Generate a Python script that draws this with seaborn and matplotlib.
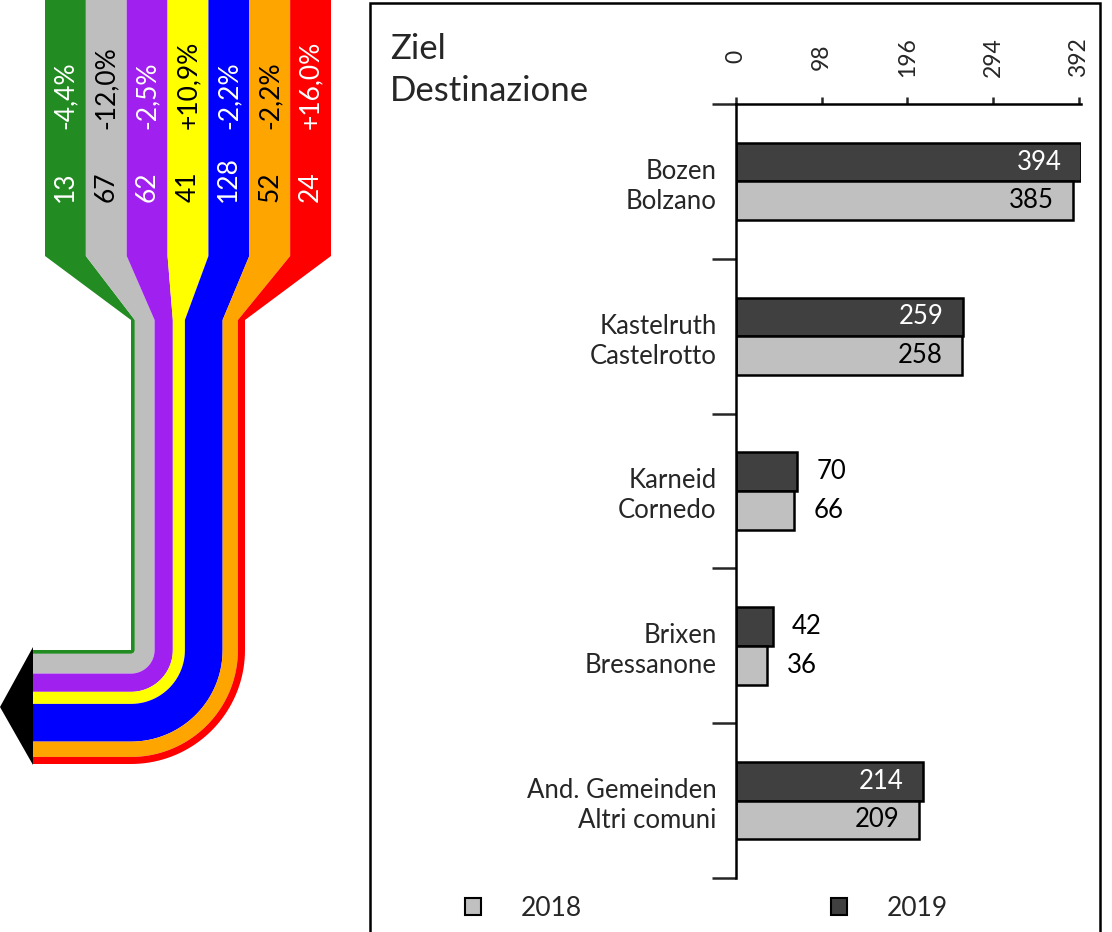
import numpy as np
import pandas as pd
import matplotlib
matplotlib.use("Agg")
import matplotlib.pyplot as plt
from matplotlib.patches import Polygon, Rectangle, Patch
import seaborn as sns

# --- data ---
origin_counts = [13, 67, 62, 41, 128, 52, 24]
origin_changes = ["-4,4%", "-12,0%", "-2,5%", "+10,9%", "-2,2%", "-2,2%", "+16,0%"]
origin_colors = ["#228B22", "#BEBEBE", "#A020F0", "#FFFF00", "#0000FF", "#FFA500", "#FF0000"]
origin_text = ["white", "black", "white", "black", "white", "black", "white"]

destinations = ["Bozen\nBolzano", "Kastelruth\nCastelrotto", "Karneid\nCornedo",
                "Brixen\nBressanone", "And. Gemeinden\nAltri comuni"]
values_2019 = [394, 259, 70, 42, 214]
values_2018 = [385, 258, 66, 36, 209]
x_ticks = [0, 98, 196, 294, 392]

sns.set_style("white")
plt.rcParams["font.family"] = ["Lato", "DejaVu Sans"]

W, H = 1112, 932
fig = plt.figure(figsize=(W / 100, H / 100), dpi=100)

# --- left: flow bands (pixel layout) ---
axf = fig.add_axes([0, 0, 360 / W, 1])
axf.set_xlim(0, 360)
axf.set_ylim(H, 0)
axf.axis("off")

top_x0, band_w = 45, 286 / 7
y_wide, y_narrow = 256, 320
cx, cy = 131, 650          # bend centre
left_end = 33
scale = 114 / sum(origin_counts)

offset = 0.0
for i, (cnt, col) in enumerate(zip(origin_counts, origin_colors)):
    w = cnt * scale
    a, b = offset, offset + w
    xl, xr = top_x0 + i * band_w, top_x0 + (i + 1) * band_w
    t = np.linspace(0, np.pi / 2, 40)
    pts = [(xl, -5), (xl, y_wide), (cx + a, y_narrow), (cx + a, cy)]
    pts += list(zip(cx + a * np.cos(t), cy + a * np.sin(t)))
    pts += [(left_end, cy + a), (left_end, cy + b)]
    pts += list(zip(cx + b * np.cos(t[::-1]), cy + b * np.sin(t[::-1])))
    pts += [(cx + b, y_narrow), (xr, y_wide), (xr, -5)]
    axf.add_patch(Polygon(pts, closed=True, facecolor=col, edgecolor="none"))
    xm = (xl + xr) / 2
    axf.text(xm, 202, str(cnt), rotation=90, ha="center", va="bottom",
             color=origin_text[i], fontsize=19)
    axf.text(xm, 129, origin_changes[i], rotation=90, ha="center", va="bottom",
             color=origin_text[i], fontsize=19)
    offset = b

axf.add_patch(Polygon([(left_end, cy - 3), (0, cy + offset / 2), (left_end, cy + offset + 1)],
                      closed=True, facecolor="black", edgecolor="none"))

# --- frame ---
fig.patches.append(Rectangle((370 / W, -0.01), (1100 - 370) / W, 1 - 3 / H + 0.01,
                             transform=fig.transFigure, fill=False,
                             edgecolor="black", linewidth=1.8))

# --- right: bar chart ---
df = pd.DataFrame({
    "dest": destinations * 2,
    "value": values_2019 + values_2018,
    "year": ["2019"] * len(destinations) + ["2018"] * len(destinations),
})

ax = fig.add_axes([736 / W, 1 - 878 / H, 344.7 / W, 774 / H])
sns.barplot(data=df, x="value", y="dest", hue="year", hue_order=["2019", "2018"],
            palette={"2019": "#404040", "2018": "#C0C0C0"}, width=0.5,
            edgecolor="black", linewidth=1.8, orient="h", legend=False, ax=ax)

ax.set_xlim(0, 394)
ax.set_ylim(len(destinations) - 0.5, -0.5)
ax.set_xlabel("")
ax.set_ylabel("")

for cont, year in zip(ax.containers, ["2019", "2018"]):
    inside_col = "white" if year == "2019" else "black"
    for bar in cont:
        v = bar.get_width()
        yc = bar.get_y() + bar.get_height() / 2
        if v > 150:
            ax.annotate(f"{v:.0f}", (v, yc), xytext=(-14, 0), textcoords="offset points",
                        ha="right", va="center", color=inside_col, fontsize=18.5)
        else:
            ax.annotate(f"{v:.0f}", (v, yc), xytext=(14, 0), textcoords="offset points",
                        ha="left", va="center", color="black", fontsize=18.5)

ax.xaxis.tick_top()
ax.set_xticks(x_ticks)
ax.set_xticklabels([str(t) for t in x_ticks])
ax.tick_params(axis="x", length=5, width=1.8, pad=29, labelsize=16.5, labelrotation=90)
for lab in ax.get_xticklabels():
    lab.set_va("center")

ax.set_yticks(np.arange(-0.5, len(destinations), 1.0))
ax.set_yticklabels([])
ax.set_yticks(np.arange(len(destinations)), destinations, minor=True)
ax.tick_params(axis="y", which="major", length=17, width=1.8, left=True, direction="out")
ax.tick_params(axis="y", which="minor", length=0, pad=14, labelsize=18.5)
for lab in ax.get_yticklabels(minor=True):
    lab.set_multialignment("right")
    lab.set_linespacing(1.25)

for side in ["right", "bottom"]:
    ax.spines[side].set_visible(False)
for side in ["top", "left"]:
    ax.spines[side].set_linewidth(1.8)
    ax.spines[side].set_color("black")
ax.grid(False)

# title (baseline of the last line)
fig.text(390 / W, 1 - 101 / H, "Ziel\nDestinazione", fontsize=25, ha="left",
         va="baseline", linespacing=1.38)

# legend
handles = [Patch(facecolor="#C0C0C0", edgecolor="black", linewidth=1.5, label="2018"),
           Patch(facecolor="#404040", edgecolor="black", linewidth=1.5, label="2019")]
fig.legend(handles=handles, loc="center left", bbox_to_anchor=(465 / W, 1 - 908 / H),
           ncol=2, frameon=False, borderpad=0, borderaxespad=0, fontsize=19,
           handlelength=0.6, handleheight=0.6, handletextpad=1.5, columnspacing=9.45)

fig.savefig("out.png", dpi=100)
